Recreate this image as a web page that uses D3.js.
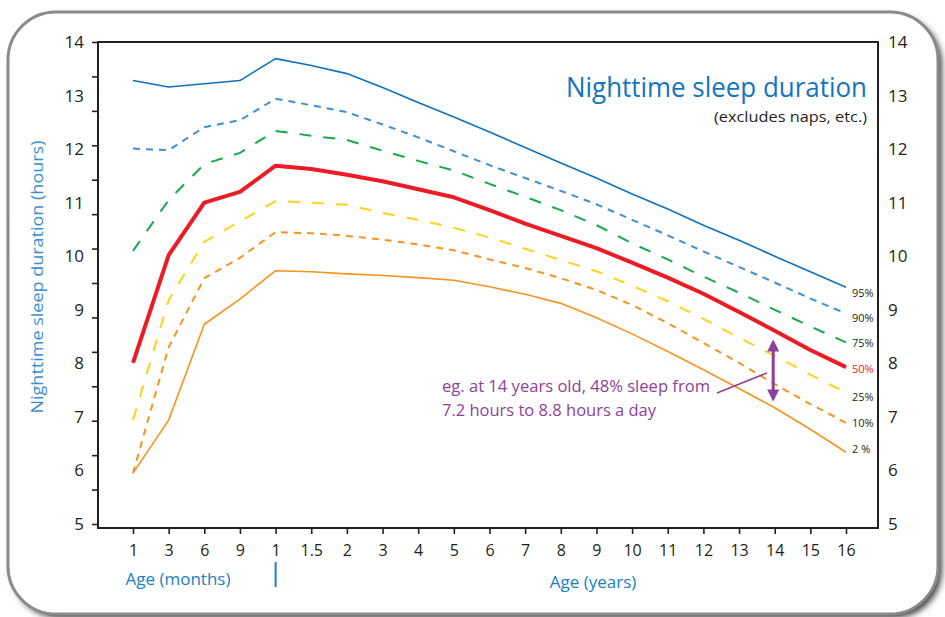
<!DOCTYPE html>
<html>
<head>
<meta charset="utf-8">
<script src="https://cdn.jsdelivr.net/npm/d3@7"></script>
<style>
  body { margin: 0; background: #fff; }
  text { font-family: "Open Sans", sans-serif; }
</style>
</head>
<body>
<div id="chart"></div>
<script>
// Age categories along the x axis (months, then years)
const xLabels = ["1", "3", "6", "9", "1", "1.5", "2", "3", "4", "5", "6", "7", "8", "9", "10", "11", "12", "13", "14", "15", "16"];
const yLabels = [5, 6, 7, 8, 9, 10, 11, 12, 13, 14];

// Percentile curves, hours of nighttime sleep
const p95 = [13.28, 13.16, 13.22, 13.28, 13.69, 13.56, 13.41, 13.15, 12.87, 12.60, 12.32, 12.03, 11.74, 11.46, 11.16, 10.88, 10.58, 10.30, 10.00, 9.71, 9.42];
const p90 = [12.01, 11.98, 12.41, 12.54, 12.94, 12.82, 12.69, 12.46, 12.22, 11.96, 11.70, 11.46, 11.22, 10.97, 10.68, 10.39, 10.09, 9.80, 9.51, 9.21, 8.93];
const p75 = [10.10, 11.05, 11.72, 11.93, 12.34, 12.25, 12.17, 11.97, 11.78, 11.60, 11.35, 11.11, 10.86, 10.58, 10.24, 9.94, 9.62, 9.32, 9.00, 8.69, 8.39];
const p50 = [8.01, 10.02, 11.00, 11.20, 11.69, 11.63, 11.52, 11.40, 11.25, 11.10, 10.86, 10.61, 10.38, 10.15, 9.88, 9.60, 9.30, 8.96, 8.61, 8.25, 7.93];
const p25 = [6.94, 9.18, 10.27, 10.65, 11.03, 11.00, 10.96, 10.81, 10.68, 10.53, 10.35, 10.14, 9.93, 9.72, 9.45, 9.16, 8.83, 8.48, 8.14, 7.79, 7.45];
const p10 = [5.95, 8.30, 9.59, 9.97, 10.45, 10.43, 10.38, 10.31, 10.22, 10.11, 9.94, 9.78, 9.59, 9.37, 9.09, 8.75, 8.38, 8.01, 7.61, 7.24, 6.89];
const p2  = [5.95, 6.94, 8.73, 9.20, 9.73, 9.71, 9.67, 9.64, 9.60, 9.55, 9.43, 9.29, 9.12, 8.85, 8.55, 8.22, 7.88, 7.53, 7.17, 6.77, 6.34];

const percentLabels = ["95%", "90%", "75%", "50%", "25%", "10%", "2 %"];

const W = 945, H = 617;
const box = { left: 98, right: 878, top: 42, bottom: 528 };

const svg = d3.select("#chart").append("svg")
    .attr("width", W)
    .attr("height", H);

// Rounded frame with a soft shadow
const defs = svg.append("defs");
const f = defs.append("filter").attr("id", "sh").attr("x", "-5%").attr("y", "-5%").attr("width", "115%").attr("height", "115%");
f.append("feGaussianBlur").attr("stdDeviation", 3);
svg.append("rect")
    .attr("x", 12).attr("y", 16).attr("width", 930).attr("height", 602)
    .attr("rx", 48).attr("fill", "#444").attr("filter", "url(#sh)");
svg.append("rect")
    .attr("x", 8).attr("y", 12).attr("width", 930).attr("height", 602)
    .attr("rx", 48).attr("fill", "#fff")
    .attr("stroke", "#8a8a8a").attr("stroke-width", 3);

// Scales
const x = d3.scalePoint()
    .domain(d3.range(xLabels.length))
    .range([133, 846]);

const y = d3.scaleLinear()
    .domain([5, 14])
    .range([524, 42]);

// Plot frame
svg.append("rect")
    .attr("x", box.left).attr("y", box.top)
    .attr("width", box.right - box.left).attr("height", box.bottom - box.top)
    .attr("fill", "none").attr("stroke", "#231f20").attr("stroke-width", 2);

// Left axis: minor tick marks and labels are drawn separately
const tickMarks = d3.range(15).map(i => 5 + i * 9 / 14);
svg.append("g")
    .attr("transform", `translate(${box.left},0)`)
    .call(d3.axisLeft(y).tickValues(tickMarks).tickSize(6).tickFormat(""))
    .call(g => g.select(".domain").remove())
    .selectAll("line").attr("stroke", "#231f20").attr("stroke-width", 1.6);

svg.append("g")
    .attr("transform", `translate(${box.left},0)`)
    .call(d3.axisLeft(y).tickValues(yLabels).tickSize(0).tickPadding(14))
    .call(g => g.select(".domain").remove())
    .selectAll("text").style("font-size", "17px").attr("fill", "#231f20");

svg.append("g")
    .attr("transform", `translate(${box.right},0)`)
    .call(d3.axisRight(y).tickValues(yLabels).tickSize(0).tickPadding(10))
    .call(g => g.select(".domain").remove())
    .selectAll("text").style("font-size", "17px").attr("fill", "#231f20");

// Bottom axis
svg.append("g")
    .attr("transform", `translate(0,${box.bottom})`)
    .call(d3.axisBottom(x).tickSize(6).tickPadding(11).tickFormat(i => xLabels[i]))
    .call(g => g.select(".domain").remove())
    .call(g => g.selectAll("line").attr("stroke", "#231f20").attr("stroke-width", 1.6))
    .selectAll("text").style("font-size", "16px").attr("fill", "#231f20");

// Percentile lines
const series = [
    { name: "95%", values: p95, color: "#0f72bd", width: 1.6, dash: null },
    { name: "90%", values: p90, color: "#3d8fd4", width: 2, dash: "7,6" },
    { name: "75%", values: p75, color: "#16a84b", width: 2, dash: "12,12" },
    { name: "50%", values: p50, color: "#ec1c24", width: 4, dash: null },
    { name: "25%", values: p25, color: "#fdd31a", width: 2, dash: "12,12" },
    { name: "10%", values: p10, color: "#f7941d", width: 2, dash: "7,6" },
    { name: "2%",  values: p2,  color: "#f7941d", width: 1.6, dash: null }
];

const line = d3.line()
    .x((d, i) => x(i))
    .y(d => y(d));

series.forEach(s => {
    svg.append("path")
        .datum(s.values)
        .attr("fill", "none")
        .attr("stroke", s.color)
        .attr("stroke-width", s.width)
        .attr("stroke-linejoin", "round")
        .attr("stroke-dasharray", s.dash)
        .attr("d", line);
});

// Percentile labels at the right end
const labelY = [293, 318, 343, 369, 397, 423, 449];
percentLabels.forEach((t, i) => {
    svg.append("text")
        .attr("x", 852)
        .attr("y", labelY[i])
        .attr("dy", "0.35em")
        .style("font-size", "11px")
        .attr("fill", i === 3 ? "#ec1c24" : "#231f20")
        .text(t);
});

// Titles
svg.append("text")
    .attr("x", 867).attr("y", 97)
    .attr("text-anchor", "end")
    .attr("textLength", 301).attr("lengthAdjust", "spacingAndGlyphs")
    .style("font-size", "27px")
    .attr("fill", "#1275bd")
    .text("Nighttime sleep duration");

svg.append("text")
    .attr("x", 867).attr("y", 122)
    .attr("text-anchor", "end")
    .attr("textLength", 153).attr("lengthAdjust", "spacingAndGlyphs")
    .style("font-size", "15px")
    .attr("fill", "#231f20")
    .text("(excludes naps, etc.)");

svg.append("text")
    .attr("transform", "translate(43,277) rotate(-90)")
    .attr("text-anchor", "middle")
    .attr("textLength", 273).attr("lengthAdjust", "spacingAndGlyphs")
    .style("font-size", "17px")
    .attr("fill", "#3a8fd0")
    .text("Nighttime sleep duration (hours)");

svg.append("text")
    .attr("x", 178).attr("y", 585)
    .attr("text-anchor", "middle")
    .style("font-size", "17px")
    .attr("fill", "#1a80c4")
    .text("Age (months)");

svg.append("line")
    .attr("x1", x(4)).attr("x2", x(4))
    .attr("y1", 562).attr("y2", 587)
    .attr("stroke", "#1a80c4").attr("stroke-width", 2);

svg.append("text")
    .attr("x", 593).attr("y", 588)
    .attr("text-anchor", "middle")
    .style("font-size", "17px")
    .attr("fill", "#1a80c4")
    .text("Age (years)");

// Annotation
const purple = "#8e3f97";
defs.append("marker")
    .attr("id", "ah").attr("viewBox", "0 0 10 10")
    .attr("refX", 8).attr("refY", 5)
    .attr("markerWidth", 4.5).attr("markerHeight", 4)
    .attr("orient", "auto-start-reverse")
    .append("path").attr("d", "M0,0 L10,5 L0,10 Z").attr("fill", purple);

const ax = x(18) - 1.5;
svg.append("line")
    .attr("x1", ax).attr("x2", ax)
    .attr("y1", y(8.4)).attr("y2", y(7.33))
    .attr("stroke", purple).attr("stroke-width", 3)
    .attr("marker-start", "url(#ah)").attr("marker-end", "url(#ah)");

svg.append("line")
    .attr("x1", 717).attr("y1", 393)
    .attr("x2", 767).attr("y2", 373)
    .attr("stroke", purple).attr("stroke-width", 1.6);

svg.append("text")
    .attr("x", 442).attr("y", 392)
    .style("font-size", "16px")
    .attr("textLength", 268).attr("lengthAdjust", "spacingAndGlyphs")
    .attr("fill", purple)
    .text("eg. at 14 years old, 48% sleep from");

svg.append("text")
    .attr("x", 442).attr("y", 416)
    .style("font-size", "16px")
    .attr("textLength", 214).attr("lengthAdjust", "spacingAndGlyphs")
    .attr("fill", purple)
    .text("7.2 hours to 8.8 hours a day");
</script>
</body>
</html>
